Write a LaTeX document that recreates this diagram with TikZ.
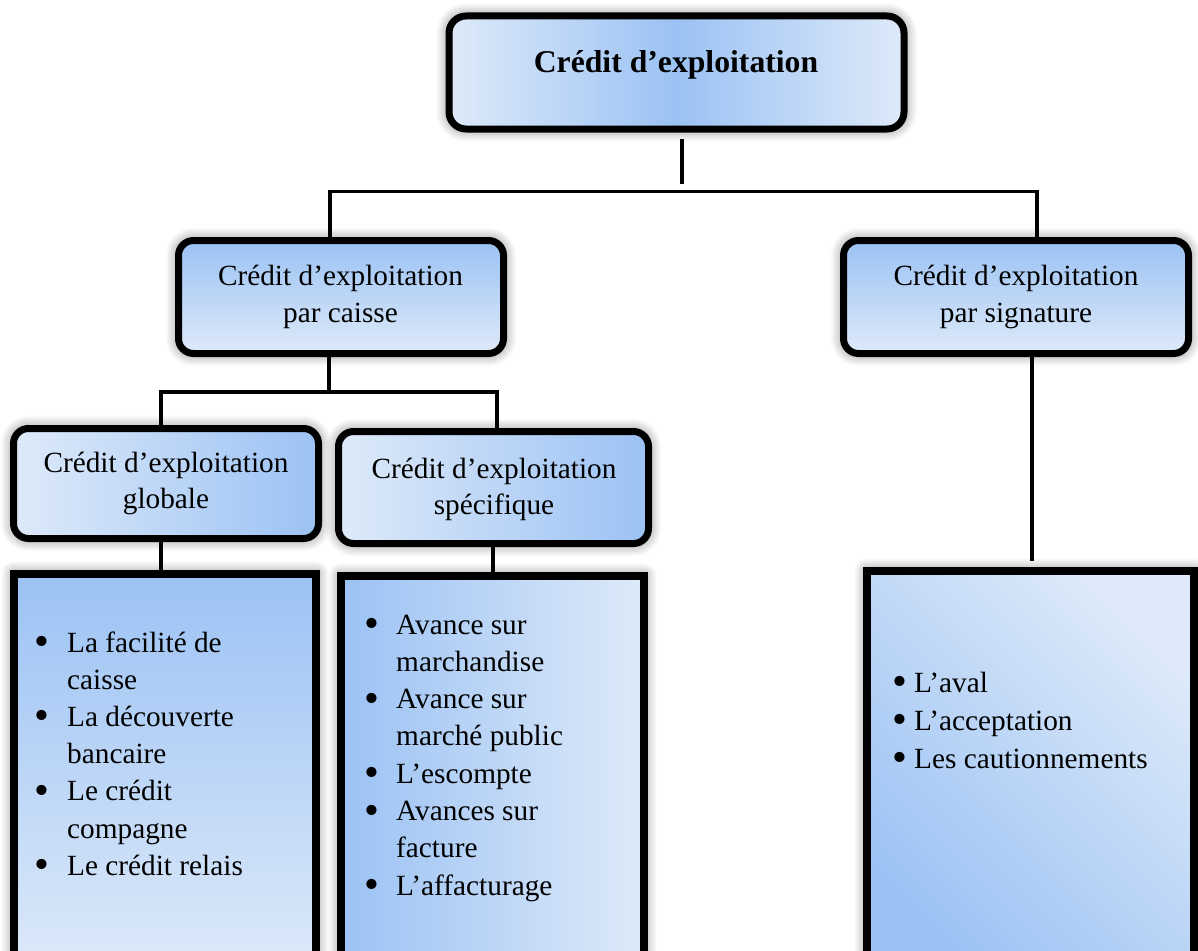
\documentclass[tikz,border=0pt]{standalone}
\usepackage{fontspec}
\setmainfont{Liberation Serif}
\usetikzlibrary{shadows.blur}

\definecolor{bluedeep}{RGB}{155,194,244}
\definecolor{bluepale}{RGB}{222,234,249}

% enlarged list bullet
\newcommand{\itembullet}{\raisebox{-3.5pt}{\scalebox{1.45}{\textbullet}}}

\tikzset{
  boxshadow/.style={blur shadow={shadow xshift=0pt, shadow yshift=0pt,
      shadow blur radius=13pt, shadow blur steps=12, shadow opacity=55}},
  roundbox/.style={rectangle, draw=black, line width=7pt, rounded corners=15pt,
      inner sep=0pt, boxshadow},
  listbox/.style={rectangle, draw=black, line width=8pt, inner sep=0pt, boxshadow},
  link/.style={draw=black, line width=3.5pt},
  boxtext/.style={inner sep=0pt, anchor=base, font=\fontsize{29.3}{37}\selectfont},
  itemtext/.style={inner sep=0pt, anchor=base west},
}

\begin{document}
\begin{tikzpicture}[x=1pt, y=-1pt]
\useasboundingbox (0,0) rectangle (1198,950);
\clip (0,0) rectangle (1198,950);

% ---- boxes ----
\node[roundbox, rounded corners=17pt, minimum width=455pt, minimum height=113pt,
      left color=bluepale, right color=bluepale, middle color=bluedeep]
      (root) at (676.5,72.5) {};

\node[roundbox, minimum width=325pt, minimum height=113pt,
      top color=bluedeep, bottom color=bluepale] (caisse) at (341,297) {};
\node[roundbox, minimum width=345pt, minimum height=113pt,
      top color=bluedeep, bottom color=bluepale] (signature) at (1016,297) {};

\node[roundbox, minimum width=305pt, minimum height=110pt,
      left color=bluepale, right color=bluedeep] (globale) at (166,483.5) {};
\node[roundbox, minimum width=310pt, minimum height=112pt,
      left color=bluepale, right color=bluedeep] (specifique) at (493.5,487.5) {};

\node[listbox, minimum width=302pt, minimum height=401pt,
      top color=bluedeep, bottom color=bluepale] (listL) at (165,774.5) {};
\node[listbox, minimum width=303pt, minimum height=399pt,
      left color=bluedeep, right color=bluepale] (listM) at (492.5,775.5) {};
\node[listbox, minimum width=327pt, minimum height=404pt,
      top color=bluepale, bottom color=bluedeep, shading angle=-45] (listR) at (1030.5,773) {};

% ---- box captions ----
\node[boxtext, font=\bfseries\fontsize{31.7}{38}\selectfont] (troot) at (676,73)
  {Crédit d’exploitation};
\node[boxtext] (tcaisse) at (340.5,285)
  {\begin{tabular}[t]{@{}c@{}}Crédit d’exploitation\\par caisse\end{tabular}};
\node[boxtext] (tsignature) at (1016,285)
  {\begin{tabular}[t]{@{}c@{}}Crédit d’exploitation\\par signature\end{tabular}};
\node[boxtext] (tglobale) at (166,472)
  {\fontsize{29.3}{36.5}\selectfont\begin{tabular}[t]{@{}c@{}}Crédit d’exploitation\\globale\end{tabular}};
\node[boxtext] (tspecifique) at (494,478)
  {\fontsize{29.3}{36.5}\selectfont\begin{tabular}[t]{@{}c@{}}Crédit d’exploitation\\spécifique\end{tabular}};

% ---- bullet lists ----
\node[itemtext] (itemsL) at (34.5,652)
  {\fontsize{29.3}{37.2}\selectfont\begin{tabular}[t]{@{}l@{}l@{}}
   \makebox[32.5pt][l]{\itembullet} & La facilité de\\
   & caisse\\
   \makebox[32.5pt][l]{\itembullet} & La découverte\\
   & bancaire\\
   \makebox[32.5pt][l]{\itembullet} & Le crédit\\
   & compagne\\
   \makebox[32.5pt][l]{\itembullet} & Le crédit relais
  \end{tabular}};

\node[itemtext] (itemsM) at (364,634)
  {\fontsize{29.3}{37.3}\selectfont\begin{tabular}[t]{@{}l@{}l@{}}
   \makebox[32pt][l]{\itembullet} & Avance sur\\
   & marchandise\\
   \makebox[32pt][l]{\itembullet} & Avance sur\\
   & marché public\\
   \makebox[32pt][l]{\itembullet} & L’escompte\\
   \makebox[32pt][l]{\itembullet} & Avances sur\\
   & facture\\
   \makebox[32pt][l]{\itembullet} & L’affacturage
  \end{tabular}};

\node[itemtext] (itemsR) at (892,692)
  {\fontsize{29.3}{38}\selectfont\begin{tabular}[t]{@{}l@{}l@{}}
   \makebox[22pt][l]{\itembullet} & L’aval\\
   \makebox[22pt][l]{\itembullet} & L’acceptation\\
   \makebox[22pt][l]{\itembullet} & Les cautionnements
  \end{tabular}};

% ---- connectors ----
\coordinate (stemtop) at (681.5,139);
\coordinate (stembot) at (681.5,184);
\draw[link, line width=4pt] (stemtop) -- (stembot);

\coordinate (busAl) at (330,191.5);
\coordinate (busAr) at (1037,191.5);
\draw[link] (caisse.north -| busAl) -- (busAl) -- (busAr) -- (signature.north -| busAr);

\coordinate (busBm) at (329,392);
\coordinate (busBl) at (161,392);
\coordinate (busBr) at (497,392);
\draw[link] (caisse.south -| busBm) -- (busBm);
\draw[link] (globale.north -| busBl) -- (busBl) -- (busBr) -- (specifique.north -| busBr);

\draw[link] (globale.south -| busBl) -- (listL.north -| busBl);
\coordinate (dropM) at (493,560);
\draw[link] (specifique.south -| dropM) -- (listM.north -| dropM);

\coordinate (dropR) at (1032,561);
\draw[link] (signature.south -| dropR) -- (dropR);
\end{tikzpicture}
\end{document}
